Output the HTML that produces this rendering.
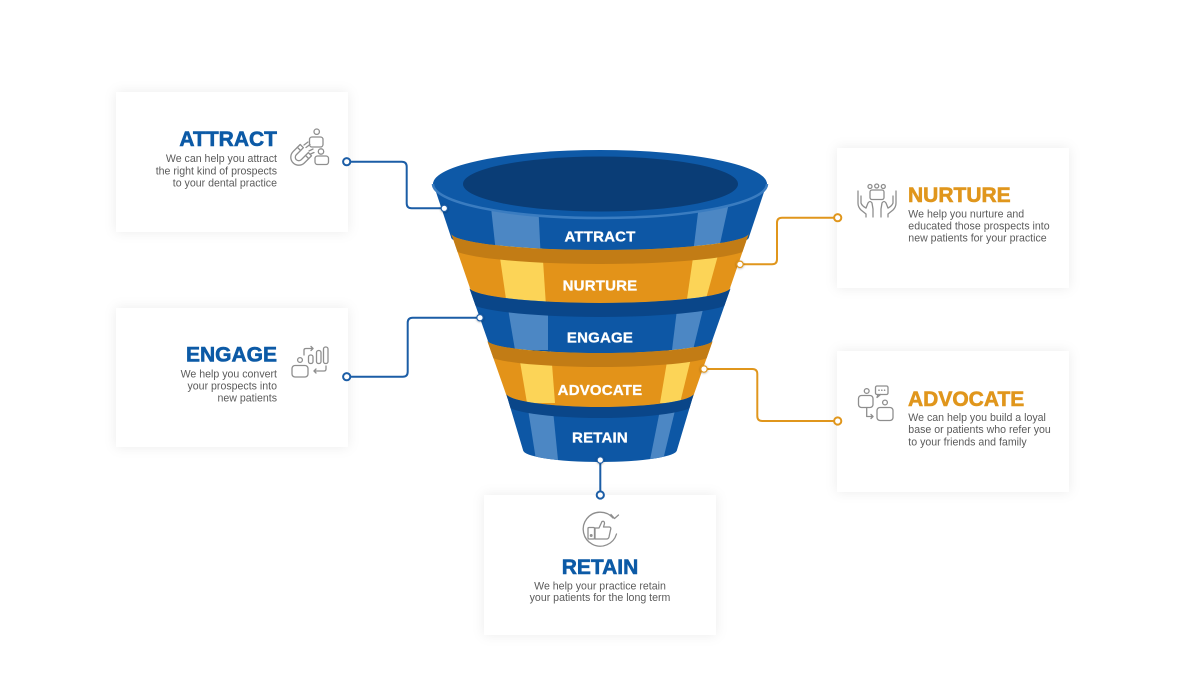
<!DOCTYPE html>
<html>
<head>
<meta charset="utf-8">
<style>
html,body{margin:0;padding:0;background:#fff;}
body{width:1200px;height:679px;overflow:hidden;}
svg{display:block;}
.t{font-family:"Liberation Sans",Arial,sans-serif;font-weight:bold;stroke-width:0.6;}
.d{font-family:"Liberation Sans",Arial,sans-serif;font-size:10.6px;fill:#5b5b5b;}
.fl{font-family:"Liberation Sans",Arial,sans-serif;font-weight:bold;font-size:15px;fill:#fff;stroke:#fff;stroke-width:0.3;letter-spacing:0.2px;}
.ic{fill:none;stroke:#8e8e8e;stroke-width:1.3;stroke-linecap:round;stroke-linejoin:round;}
</style>
</head>
<body>
<svg width="1200" height="679" viewBox="0 0 1200 679" xmlns="http://www.w3.org/2000/svg">
<defs>
  <filter id="sh" x="-20%" y="-20%" width="140%" height="140%">
    <feDropShadow dx="0" dy="0" stdDeviation="6" flood-color="#000" flood-opacity="0.08"/>
  </filter>
  <filter id="dsh" x="-100%" y="-100%" width="300%" height="300%">
    <feDropShadow dx="0" dy="0.5" stdDeviation="1" flood-color="#000" flood-opacity="0.35"/>
  </filter>
  <clipPath id="cA"><path d="M433,183 L767,183 L749,237 A149 17 0 0 1 451,237 Z"/></clipPath>
  <clipPath id="cN"><path d="M451,233 A149 17 0 0 0 749,233 L729,291 A129 16 0 0 1 471,291 Z"/></clipPath>
  <clipPath id="cE"><path d="M469,287 A131 16 0 0 0 731,287 L711,344 A111 13 0 0 1 489,344 Z"/></clipPath>
  <clipPath id="cV"><path d="M487,340 A113 13 0 0 0 713,340 L693,397 A93 14 0 0 1 507,397 Z"/></clipPath>
  <clipPath id="cR"><path d="M506,393 A94 14 0 0 0 694,393 L677,450 A77 12 0 0 1 523,450 Z"/></clipPath>
</defs>

<!-- Cards -->
<g filter="url(#sh)" fill="#fff">
  <rect x="116" y="92" width="232" height="140"/>
  <rect x="837" y="148" width="232" height="140"/>
  <rect x="116" y="308" width="232" height="139"/>
  <rect x="837" y="351" width="232" height="141"/>
  <rect x="484" y="495" width="232" height="140"/>
</g>

<!-- ATTRACT card text -->
<text class="t" x="277" y="146" text-anchor="end" font-size="21" fill="#0c5aa6" stroke="#0c5aa6">ATTRACT</text>
<text class="d" text-anchor="end"><tspan x="277" y="162">We can help you attract</tspan><tspan x="277" y="174.3">the right kind of prospects</tspan><tspan x="277" y="186.7">to your dental practice</tspan></text>
<!-- attract icon -->
<g class="ic">
  <circle cx="316.7" cy="131.7" r="2.7"/>
  <rect x="309.5" y="137" width="13.5" height="10" rx="2.5"/>
  <circle cx="321" cy="151.5" r="2.7"/>
  <rect x="315" y="156" width="13.5" height="8.5" rx="2.5"/>
  <g transform="translate(299.5,156.5) rotate(45)">
    <path d="M-8,-9 L-8,1 A8 8 0 0 0 8,1 L8,-9 L3.5,-9 L3.5,1 A3.5 3.5 0 0 1 -3.5,1 L-3.5,-9 Z"/>
    <line x1="-8" y1="-5" x2="-3.5" y2="-5"/>
    <line x1="3.5" y1="-5" x2="8" y2="-5"/>
  </g>
  <line x1="304" y1="145" x2="308" y2="142"/>
  <line x1="306" y1="147.5" x2="310" y2="144.5"/>
  <line x1="309" y1="151" x2="313" y2="149"/>
  <line x1="310.5" y1="154" x2="314" y2="152.5"/>
</g>

<!-- NURTURE card text -->
<text class="t" x="908" y="202" font-size="21" fill="#e0961c" stroke="#e0961c">NURTURE</text>
<text class="d"><tspan x="908.3" y="217.3">We help you nurture and</tspan><tspan x="908.3" y="229.5">educated those prospects into</tspan><tspan x="908.3" y="241.7">new patients for your practice</tspan></text>
<g class="ic">
  <circle cx="870" cy="186.5" r="2"/>
  <circle cx="876.7" cy="186" r="2"/>
  <circle cx="883.3" cy="186.5" r="2"/>
  <rect x="870" y="190" width="14" height="9.5" rx="2"/>
  <path d="M858,191 L858,203 Q858,207 861,210 L866,214 L866,217"/>
  <path d="M861,196 L861,203 Q862,206 866,208"/>
  <path d="M866,208 L868,203 Q870,200 872,203 L873,209 L873,217"/>
  <path d="M896,191 L896,203 Q896,207 893,210 L888,214 L888,217"/>
  <path d="M893,196 L893,203 Q892,206 888,208"/>
  <path d="M888,208 L886,203 Q884,200 882,203 L881,209 L881,217"/>
</g>

<!-- ENGAGE card text -->
<text class="t" x="277" y="361.7" text-anchor="end" font-size="21" fill="#0c5aa6" stroke="#0c5aa6">ENGAGE</text>
<text class="d" text-anchor="end"><tspan x="277" y="377.3">We help you convert</tspan><tspan x="277" y="389.5">your prospects into</tspan><tspan x="277" y="401.7">new patients</tspan></text>
<g class="ic">
  <circle cx="300" cy="360" r="2.4"/>
  <rect x="292" y="365.5" width="16" height="11.5" rx="3"/>
  <rect x="308.5" y="355" width="4.5" height="8.5" rx="2"/>
  <rect x="316.5" y="350.5" width="4.5" height="13" rx="2"/>
  <rect x="323.5" y="347" width="4.5" height="16.5" rx="2"/>
  <path d="M304,355 L304,350 Q304,348.5 306,348.5 L313,348.5"/>
  <path d="M311,346.5 L313,348.5 L311,350.5"/>
  <path d="M326,366 L326,369 Q326,371 324,371 L314,371"/>
  <path d="M316,369 L314,371 L316,373"/>
</g>

<!-- ADVOCATE card text -->
<text class="t" x="908" y="406" font-size="21" fill="#e0961c" stroke="#e0961c">ADVOCATE</text>
<text class="d"><tspan x="908.3" y="421">We can help you build a loyal</tspan><tspan x="908.3" y="433.2">base or patients who refer you</tspan><tspan x="908.3" y="445.4">to your friends and family</tspan></text>
<g class="ic">
  <circle cx="866.7" cy="391" r="2.4"/>
  <rect x="858.5" y="395.5" width="14.5" height="12" rx="3"/>
  <rect x="875.5" y="386" width="12.5" height="8.5" rx="1.5"/>
  <path d="M878,394.5 L877,397.5 L880.5,394.5"/>
  <circle cx="885" cy="402.5" r="2.4"/>
  <rect x="877" y="407.5" width="16" height="13" rx="3"/>
  <path d="M866.7,408 L866.7,416.5 L873,416.5"/>
  <path d="M871,414.5 L873,416.5 L871,418.5"/>
</g>
<g fill="#8e8e8e"><circle cx="879" cy="390.2" r="0.8"/><circle cx="881.8" cy="390.2" r="0.8"/><circle cx="884.6" cy="390.2" r="0.8"/></g>

<!-- RETAIN card text -->
<text class="t" x="600" y="574" text-anchor="middle" font-size="21" fill="#0c5aa6" stroke="#0c5aa6">RETAIN</text>
<text class="d" text-anchor="middle"><tspan x="600" y="589.3">We help your practice retain</tspan><tspan x="600" y="600.8">your patients for the long term</tspan></text>
<g class="ic">
  <path d="M613,518 A17 17 0 1 0 616.5,534"/>
  <path d="M611,514.5 L614.5,518.5 L618.5,515"/>
  <rect x="588" y="527.5" width="6.5" height="11.5" rx="1"/>
  <circle cx="591.2" cy="535.5" r="0.8"/>
  <path d="M595,528 L599,528 L602,521.5 Q604.5,520.5 604.5,523.5 L603.5,527 L609.5,527 Q611.5,527.5 610.5,530 L609,537 Q608.5,539 606.5,539 L595,539 Z"/>
</g>

<!-- Connectors -->
<g fill="none" stroke-width="2" stroke-linejoin="round">
  <path stroke="#1b5da6" d="M346.7,161.7 H401.7 Q406.7,161.7 406.7,166.7 V203.3 Q406.7,208.3 411.7,208.3 H444"/>
  <path stroke="#1b5da6" d="M346.7,376.7 H402.7 Q407.7,376.7 407.7,371.7 V322.7 Q407.7,317.7 412.7,317.7 H480"/>
  <path stroke="#e0961c" d="M740,264.3 H772 Q777,264.3 777,259.3 V222.7 Q777,217.7 782,217.7 H837.7"/>
  <path stroke="#e0961c" d="M704,369 H752.3 Q757.3,369 757.3,374 V416 Q757.3,421 762.3,421 H837.7"/>
  <path stroke="#1b5da6" d="M600.3,460 V495"/>
</g>

<!-- Funnel -->
<!-- Attract -->
<g clip-path="url(#cA)">
  <rect x="420" y="170" width="360" height="90" fill="#0d57a5"/>
  <polygon points="488,180 537,180 541,262 497,262" fill="#4c87c4"/>
  <polygon points="702,180 734,180 716,262 692,262" fill="#4c87c4"/>
</g>
<ellipse cx="600" cy="184" rx="167" ry="34" fill="#0e59a7"/>
<path d="M433,184 A167 34 0 0 0 767,184" fill="none" stroke="#3a7cc0" stroke-width="2.5"/>
<ellipse cx="600.5" cy="184" rx="137.5" ry="27.5" fill="#0a3d76"/>
<text class="fl" x="600" y="241.7" text-anchor="middle">ATTRACT</text>

<!-- Nurture -->
<g clip-path="url(#cN)">
  <rect x="440" y="225" width="320" height="90" fill="#e39319"/>
  <polygon points="496,230 541,230 546,306 507,306" fill="#fcd457"/>
  <polygon points="697,230 725,230 704,306 686,306" fill="#fcd457"/>
  <path d="M451,233 A149 17 0 0 0 749,233 L749,247 A149 17 0 0 1 451,247 Z" fill="#c27c15"/>
</g>
<text class="fl" x="600" y="290.7" text-anchor="middle">NURTURE</text>

<!-- Engage -->
<g clip-path="url(#cE)">
  <rect x="460" y="280" width="280" height="90" fill="#0d57a5"/>
  <polygon points="504,285 548,285 548,350 515,350" fill="#4c87c4"/>
  <polygon points="680,285 709,285 693,350 672,350" fill="#4c87c4"/>
  <path d="M469,287 A131 16 0 0 0 731,287 L731,301 A131 16 0 0 1 469,301 Z" fill="#0a4689"/>
</g>
<text class="fl" x="600" y="342.3" text-anchor="middle">ENGAGE</text>

<!-- Advocate -->
<g clip-path="url(#cV)">
  <rect x="480" y="330" width="240" height="90" fill="#e39319"/>
  <polygon points="516,338 550,338 555,403 527,403" fill="#fcd457"/>
  <polygon points="671,338 696,338 680,403 660,403" fill="#fcd457"/>
  <path d="M487,340 A113 13 0 0 0 713,340 L713,354 A113 13 0 0 1 487,354 Z" fill="#c27c15"/>
</g>
<text class="fl" x="600" y="395" text-anchor="middle">ADVOCATE</text>

<!-- Retain -->
<g clip-path="url(#cR)">
  <rect x="500" y="385" width="200" height="90" fill="#0d57a5"/>
  <polygon points="525,390 551,390 558,460 536,460" fill="#4c87c4"/>
  <polygon points="664,390 680,390 663,460 650,460" fill="#4c87c4"/>
  <path d="M506,393 A94 14 0 0 0 694,393 L694,404 A94 14 0 0 1 506,404 Z" fill="#0a4689"/>
</g>
<text class="fl" x="600" y="442.7" text-anchor="middle">RETAIN</text>

<!-- Funnel dots -->
<g filter="url(#dsh)" fill="#fff" stroke-width="1.2">
  <circle cx="444.3" cy="208.3" r="3.2" stroke="#1b5da6"/>
  <circle cx="480" cy="317.7" r="3.2" stroke="#1b5da6"/>
  <circle cx="740" cy="264.3" r="3.2" stroke="#e0961c"/>
  <circle cx="704" cy="369" r="3.2" stroke="#e0961c"/>
  <circle cx="600.3" cy="460" r="3.2" stroke="#1b5da6"/>
</g>
<!-- Card end circles -->
<g fill="#fff" stroke-width="2">
  <circle cx="346.7" cy="161.7" r="3.6" stroke="#1b5da6"/>
  <circle cx="346.7" cy="376.7" r="3.6" stroke="#1b5da6"/>
  <circle cx="837.7" cy="217.7" r="3.6" stroke="#e0961c"/>
  <circle cx="837.7" cy="421" r="3.6" stroke="#e0961c"/>
  <circle cx="600.3" cy="495" r="3.6" stroke="#1b5da6"/>
</g>
</svg>
</body>
</html>
